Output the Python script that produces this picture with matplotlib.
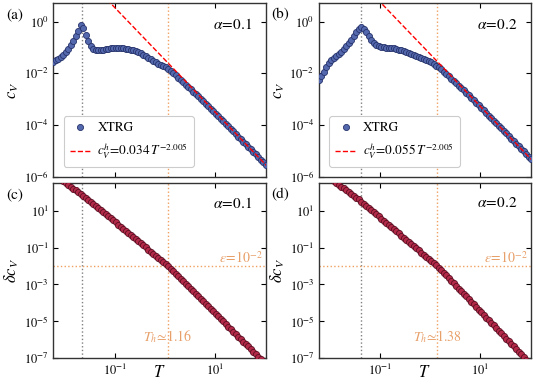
import numpy as np
import matplotlib
matplotlib.use("Agg")
import matplotlib.pyplot as plt
from matplotlib.ticker import NullLocator, LogFormatterMathtext

plt.rcParams['font.family'] = 'STIXGeneral'
plt.rcParams['mathtext.fontset'] = 'stix'

# temperature grid (log10 T)
log_T = [-2.23, -2.18, -2.13, -2.08, -2.03, -1.98, -1.93, -1.88, -1.83, -1.78,
         -1.73, -1.68, -1.63, -1.58, -1.53, -1.48, -1.43, -1.38, -1.33, -1.28,
         -1.23, -1.18, -1.13, -1.08, -1.03, -0.98, -0.93, -0.88, -0.83, -0.78,
         -0.73, -0.68, -0.63, -0.58, -0.53, -0.48, -0.43, -0.38, -0.33, -0.28,
         -0.23, -0.18, -0.13, -0.08, -0.03, 0.02, 0.07, 0.12, 0.17, 0.22,
         0.27, 0.32, 0.37, 0.42, 0.47, 0.52, 0.57, 0.62, 0.67, 0.72,
         0.77, 0.82, 0.87, 0.92, 0.97, 1.02, 1.07, 1.12, 1.17, 1.22,
         1.27, 1.32, 1.37, 1.42, 1.47, 1.52, 1.57, 1.62, 1.67, 1.72,
         1.77, 1.82, 1.87, 1.92, 1.97, 2.02]

# log10 c_V, alpha = 0.1
log_cv_a = [-1.56, -1.50, -1.44, -1.37, -1.29, -1.19, -1.06, -0.91, -0.74, -0.55,
            -0.36, -0.15, -0.24, -0.50, -0.77, -0.95, -1.05, -1.09, -1.10, -1.09,
            -1.08, -1.07, -1.05, -1.04, -1.03, -1.03, -1.03, -1.03, -1.04, -1.05,
            -1.06, -1.08, -1.11, -1.14, -1.18, -1.23, -1.28, -1.34, -1.40, -1.46,
            -1.52, -1.58, -1.63, -1.67, -1.71, -1.75, -1.83, -1.91, -1.99, -2.07,
            -2.16, -2.25, -2.34, -2.43, -2.52, -2.61, -2.70, -2.79, -2.89, -2.98,
            -3.08, -3.17, -3.27, -3.36, -3.46, -3.56, -3.65, -3.75, -3.85, -3.95,
            -4.04, -4.14, -4.24, -4.34, -4.44, -4.54, -4.63, -4.73, -4.83, -4.93,
            -5.03, -5.13, -5.23, -5.33, -5.43, -5.53]

# log10 c_V, alpha = 0.2
log_cv_b = [-2.26, -2.09, -1.94, -1.76, -1.61, -1.50, -1.41, -1.33, -1.25, -1.17,
            -1.07, -0.96, -0.84, -0.70, -0.54, -0.39, -0.27, -0.22, -0.30, -0.42,
            -0.57, -0.71, -0.82, -0.90, -0.95, -0.98, -1.00, -1.01, -1.02, -1.03,
            -1.04, -1.06, -1.08, -1.11, -1.14, -1.17, -1.21, -1.24, -1.28, -1.32,
            -1.37, -1.42, -1.46, -1.50, -1.54, -1.58, -1.62, -1.70, -1.77, -1.85,
            -1.94, -2.02, -2.11, -2.20, -2.29, -2.38, -2.47, -2.57, -2.66, -2.76,
            -2.85, -2.95, -3.04, -3.14, -3.24, -3.33, -3.43, -3.53, -3.63, -3.73,
            -3.82, -3.92, -4.02, -4.12, -4.22, -4.32, -4.42, -4.52, -4.62, -4.72,
            -4.82, -4.92, -5.01, -5.11, -5.21, -5.31]

# log10 delta c_V, alpha = 0.1
log_dcv_a = [3.00, 2.90, 2.80, 2.70, 2.60, 2.50, 2.40, 2.30, 2.20, 2.10,
             2.00, 1.90, 1.80, 1.70, 1.60, 1.49, 1.37, 1.26, 1.15, 1.04,
             0.92, 0.81, 0.70, 0.59, 0.47, 0.36, 0.25, 0.13, 0.02, -0.09,
             -0.21, -0.32, -0.43, -0.54, -0.66, -0.77, -0.88, -0.99, -1.11, -1.22,
             -1.33, -1.45, -1.56, -1.67, -1.78, -1.90, -2.01, -2.15, -2.28, -2.42,
             -2.56, -2.69, -2.83, -2.96, -3.10, -3.24, -3.37, -3.51, -3.64, -3.78,
             -3.92, -4.05, -4.19, -4.32, -4.46, -4.60, -4.73, -4.87, -5.00, -5.14,
             -5.28, -5.41, -5.55, -5.68, -5.82, -5.96, -6.09, -6.23, -6.36, -6.50,
             -6.64, -6.77, -6.91, -7.04, -7.18, -7.32]

# log10 delta c_V, alpha = 0.2
log_dcv_b = [3.21, 3.11, 3.01, 2.91, 2.81, 2.71, 2.61, 2.51, 2.41, 2.31,
             2.21, 2.11, 2.01, 1.91, 1.81, 1.71, 1.61, 1.49, 1.38, 1.26,
             1.15, 1.03, 0.92, 0.80, 0.69, 0.57, 0.46, 0.34, 0.23, 0.11,
             0.00, -0.12, -0.23, -0.35, -0.46, -0.58, -0.69, -0.81, -0.92, -1.04,
             -1.15, -1.27, -1.38, -1.49, -1.61, -1.72, -1.84, -1.95, -2.09, -2.23,
             -2.37, -2.51, -2.66, -2.80, -2.94, -3.08, -3.23, -3.37, -3.51, -3.65,
             -3.80, -3.94, -4.08, -4.22, -4.37, -4.51, -4.65, -4.79, -4.94, -5.08,
             -5.22, -5.36, -5.51, -5.65, -5.79, -5.93, -6.08, -6.22, -6.36, -6.50,
             -6.65, -6.79, -6.93, -7.07, -7.22, -7.36]

# high-T power-law fits (end points of the straight line)
fit_T = [0.07, 110.0]
fit_cv_a = [7.03, 2.75e-6]
fit_cv_b = [11.4, 4.44e-6]
fit_labels = [r'$c_V^h\!=\!0.034\,T^{-2.005}$', r'$c_V^h\!=\!0.055\,T^{-2.005}$']

alphas = ['0.1', '0.2']
panel_top = ['(a)', '(b)']
panel_bot = ['(c)', '(d)']
T_c = [0.022, 0.041]       # grey dotted lines (peak)
T_h = [1.16, 1.38]         # orange dotted lines
eps = 1e-2

T = 10 ** np.array(log_T)
cv = [10 ** np.array(log_cv_a), 10 ** np.array(log_cv_b)]
dcv = [10 ** np.array(log_dcv_a), 10 ** np.array(log_dcv_b)]
fits = [fit_cv_a, fit_cv_b]

W, H = 541, 382
fig = plt.figure(figsize=(W / 100, H / 100), dpi=100)

orange = '#f0a060'
orange_txt = '#e8a06a'
blue_face = '#5468ad'
blue_edge = '#26336b'
red_face = '#b32a48'
red_edge = '#5a0f22'
xlo, xhi = 10 ** -2.24, 10 ** 2.02


def px_axes(l, t, r, b):
    return fig.add_axes([l / W, 1 - b / H, (r - l) / W, (b - t) / H])


def style(ax, yticks, labels_x):
    ax.set_xscale('log')
    ax.set_yscale('log')
    ax.set_xlim(xlo, xhi)
    ax.set_xticks([1e-1, 1e1])
    ax.set_yticks(yticks)
    ax.xaxis.set_minor_locator(NullLocator())
    ax.yaxis.set_minor_locator(NullLocator())
    ax.yaxis.set_major_formatter(LogFormatterMathtext())
    ax.xaxis.set_major_formatter(LogFormatterMathtext())
    ax.tick_params(direction='in', top=True, right=True, length=3.5,
                   width=0.8, labelsize=9, pad=3)
    if not labels_x:
        ax.tick_params(labelbottom=False)
    for s in ax.spines.values():
        s.set_linewidth(1.0)
        s.set_color('#333333')


for i in range(2):
    left = 53 + i * 265.5
    right = left + 212.5
    # top row: specific heat
    ax = px_axes(left, 3, right, 177)
    style(ax, [1e0, 1e-2, 1e-4, 1e-6], False)
    ax.set_ylim(1e-6, 5.2)
    ax.axvline(T_c[i], color='gray', ls=':', lw=1.0)
    ax.axvline(T_h[i], color=orange, ls=':', lw=1.0)
    ax.plot(T, cv[i], 'o', ms=4.4, mfc=blue_face, mec=blue_edge, mew=0.6,
            label='XTRG', zorder=3)
    ax.plot(fit_T, fits[i], '--', color='red', lw=1.0, label=fit_labels[i],
            zorder=4)
    ax.set_ylabel(r'$c_V$', fontsize=12, labelpad=2)
    ax.text(0.935, 0.875, r'$\alpha\!=\!$' + alphas[i], transform=ax.transAxes,
            ha='right', va='center', fontsize=11)
    leg = ax.legend(loc='lower left', bbox_to_anchor=(0.02, 0.02), fontsize=9.5,
                    handlelength=1.6, handletextpad=0.5, borderpad=0.45,
                    labelspacing=0.55, framealpha=1.0, fancybox=True)
    leg.get_frame().set_edgecolor('#cccccc')
    leg.get_frame().set_linewidth(0.8)
    fig.text((left - 47) / W, 1 - 15 / H, panel_top[i], fontsize=11,
             ha='left', va='center')

    # bottom row: deviation from fit
    ax2 = px_axes(left, 183, right, 358.3)
    style(ax2, [1e1, 1e-1, 1e-3, 1e-5, 1e-7], True)
    ax2.set_ylim(1e-7, 10 ** 2.5)
    ax2.axvline(T_c[i], color='gray', ls=':', lw=1.0)
    ax2.axvline(T_h[i], color=orange, ls=':', lw=1.0)
    ax2.axhline(eps, color=orange, ls=':', lw=1.0)
    ax2.plot(T, dcv[i], 'o', ms=4.4, mfc=red_face, mec=red_edge, mew=0.6,
             zorder=3)
    ax2.set_ylabel(r'$\delta c_V$', fontsize=12, labelpad=2)
    ax2.set_xlabel(r'$T$', fontsize=12, labelpad=-9)
    ax2.text(0.935, 0.885, r'$\alpha\!=\!$' + alphas[i], transform=ax2.transAxes,
             ha='right', va='center', fontsize=11)
    ax2.text(0.985, eps * 2.6, r'$\varepsilon\!=\!10^{-2}$', color=orange_txt,
             transform=ax2.get_yaxis_transform(), ha='right', va='center',
             fontsize=10)
    ax2.text(T_h[i], 0.125, r'$T_h\!\simeq\!$' + f'{T_h[i]:.2f}', color=orange_txt,
             transform=ax2.get_xaxis_transform(), ha='center', va='center',
             fontsize=10)
    fig.text((left - 47) / W, 1 - 195 / H, panel_bot[i], fontsize=11,
             ha='left', va='center')

fig.savefig('out.png', dpi=100)
